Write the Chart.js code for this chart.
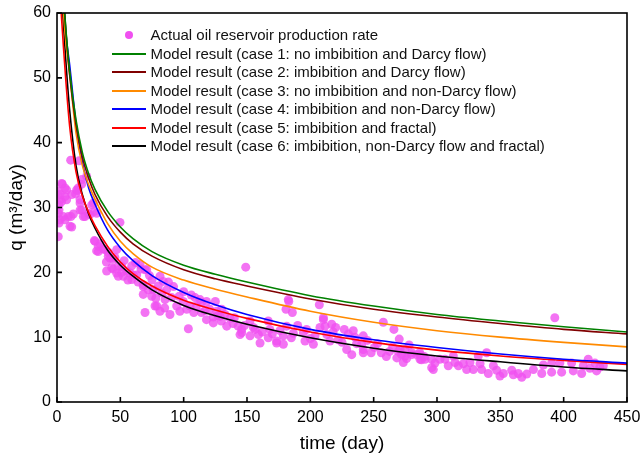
<!DOCTYPE html>
<html>
<head>
<meta charset="utf-8">
<script src="https://cdn.jsdelivr.net/npm/chart.js@4.4.1/dist/chart.umd.min.js"></script>
<style>
  body { margin: 0; background: #fff; }
  #wrap { position: relative; width: 640px; height: 455px; }
  #legend {
    position: absolute; left: 112px; top: 26px;
    font-family: "Liberation Sans", Arial, sans-serif; font-size: 15px; color: #111;
  }
  .row { position: relative; height: 18.5px; line-height: 18.5px; white-space: nowrap; }
  .row .mark { position: absolute; left: 0; top: 8px; width: 34px; height: 2px; }
  .row .dot { position: absolute; left: 13px; top: 5px; width: 8px; height: 8px; border-radius: 50%; background: rgb(240,80,240); }
  .row .txt { position: absolute; left: 38.5px; top: 0; }
</style>
</head>
<body>
<div id="wrap">
  <canvas id="chart" width="640" height="455"></canvas>
  <div id="legend"></div>
</div>
<script>
// measured data (time in days, rate in m3/day)
var obsT = [1, 1, 1.6, 1.6, 1, 1.6, 2.4, 2.4, 2.4, 3.6, 3.7, 4.2, 5, 6.3, 6.3, 6.3, 7.6, 7.6, 8.9, 10.3,
    10.8, 11, 11.6, 11.6, 12.9, 14.7, 15.5, 16.3, 16.8, 17.4, 18.2, 18.2, 18.2, 19.5, 19.5, 19.5, 20.8, 22.1, 23.4, 24.7,
    26, 27.4, 28.7, 29.5, 31.3, 49.7,
    29.5, 30, 32.6, 34, 32.6, 31.3, 36.6, 37.9, 40.5, 40.5, 41.8, 44.5, 45.7, 47.1, 39, 39.2, 43.2, 44.4, 47.1, 48.4,
    48.4, 51.1, 51, 52.4, 55, 57.6, 59, 59, 60.2, 62.9, 65.5, 66.3, 69.5, 70.8, 68.1, 68.1, 68.1, 72, 74.8, 76,
    77.4, 78.7, 69.5, 80, 81.3, 83.9, 82.7, 86.6, 85.3, 81.3, 89.2, 90.5, 94.5, 96.4, 99.7, 102.4, 105, 109, 110, 108,
    114, 114, 118, 120.5, 123.4, 127, 129.8, 103.7, 130, 112.9, 116.9, 123.4, 88, 92, 75, 64, 56, 53, 62, 73,
    78, 85, 100, 97, 106, 118, 125,
    126, 128.8, 132.6, 136.6, 134, 139, 143, 145.8, 144.5, 145.8, 149, 152.4, 152.4, 156.4, 159, 160.3, 166.8, 168, 166.8, 173.4,
    173.4, 178.7, 178.7, 181.3, 185, 186.6, 180.8, 183, 182.6, 185.8, 194.5, 195.8, 202.4, 203.7, 207.1, 210.3, 210.3, 207.6, 211.6, 213,
    216.9, 215.5, 218, 222, 226.8, 228.7, 233.9, 235.2, 236.5, 232.7, 241.8, 240.5, 241.8, 241.8, 248, 250.6, 257.6, 256, 260, 262.6,
    266, 268.3, 270.2, 269.4, 274.6, 276, 280, 283.8, 287.7, 286.4, 290, 295.8, 298.4,
    140, 148, 155, 162, 170, 176, 190, 197, 200, 220, 225, 230, 245, 253, 265, 272, 278,
    270.8, 274.7, 273.4, 280, 286.6, 286.6, 290.5, 295.8, 297.1, 302.3, 306.3, 308.9, 312.9, 314.2, 316.9, 320.8, 323.4, 326, 328.7, 332.6,
    334, 335.2, 339.2, 340.5, 344.5, 347.1, 349.7, 352.4, 359, 360.3, 364.2, 366.9, 370.8, 376.1, 382.7, 384, 390.5, 390.5, 393, 397,
    398.4, 406.3, 407.6, 414.2, 415.5, 419.4, 420.7, 424.7, 426, 431.3, 428.6];
var obsQ = [25.5, 32.5, 30.4, 29.6, 29.1, 27.6, 31.2, 28.1, 32, 30.9, 33.7, 33.6, 28.6, 31.7, 33, 28.1, 32.7, 31.2, 28.6, 27.1,
    37.3, 28.6, 27, 32, 29, 32.1, 32.7, 32.6, 33, 37.2, 30.7, 31.2, 29.6, 33.6, 34.3, 29.6, 28.6, 28.6, 34.8, 29.1,
    28.9, 30.4, 30.7, 29.4, 29.1, 27.7,
    24.9, 24.8, 24, 24.4, 23.2, 23.3, 23.6, 23.5, 23.1, 22.5, 22.2, 22, 22.3, 23.5, 21.6, 20.2, 20.7, 20.5, 19.9, 21,
    19.4, 20.9, 20, 19.4, 20.2, 19.9, 18.9, 21, 19.6, 19.6, 21.2, 20.5, 20.4, 20.4, 18.1, 17.8, 16.6, 17.3, 16.3, 17.3,
    14.8, 14.8, 13.8, 17.9, 19.4, 18.6, 16.8, 17.3, 15.8, 14, 13.5, 16.1, 14.8, 16.3, 15.5, 14.3, 14.8, 16.1, 14.8, 13.8,
    15.3, 13.8, 12.7, 14.3, 12.2, 13.3, 12.5, 11.3, 14.3, 15.8, 14.1, 13.1, 18.5, 17.8, 18.8, 18.5, 18.8, 21.8, 21.5, 19.5,
    16, 14.5, 17, 14, 16.5, 15.5, 15.5,
    14, 13.2, 13.5, 12.9, 11.7, 12.1, 11.7, 11.2, 10.4, 10.7, 20.8, 12.5, 10.2, 11.2, 10.4, 9.1, 12.5, 11.2, 9.9, 9.4,
    9.1, 8.9, 10.2, 11.7, 9.9, 10.6, 14.3, 15.5, 15.8, 13.8, 10.7, 9.4, 8.9, 10.2, 15, 12.7, 13, 11.5, 11.7, 10.4,
    12, 9.4, 10.8, 9.6, 11.2, 8.1, 11, 10, 9, 7.3, 10.2, 8.9, 7.6, 8.1, 7.6, 8.4, 12.3, 7.6, 7, 7.8,
    11.2, 6.8, 9.7, 7.8, 8.1, 6.7, 7.6, 7.3, 6.5, 7.6, 7, 5.3, 6,
    13, 11.8, 11.5, 10.8, 10.5, 11, 11.8, 11.2, 9.8, 11.5, 9.2, 10.5, 9.5, 9, 8.5, 7.3, 8.8,
    8.1, 7.1, 6.1, 7.3, 7.3, 6.6, 6.6, 6.6, 5, 6.6, 6.6, 5.6, 7.1, 6.1, 5.6, 5.9, 5, 6.1, 5, 7.1,
    5.9, 5, 7.6, 4.4, 5.6, 4.9, 4, 4.4, 4.9, 4.2, 4.4, 3.8, 4.3, 5, 4.4, 5.7, 6, 4.6, 13, 6,
    4.6, 6, 4.8, 4.4, 5.6, 6.6, 5.2, 6, 4.8, 5.6, 5.4];

// model curves
var modelT = [3, 5, 7, 10, 15, 20, 25, 30, 40, 50, 60, 75, 100, 125, 150, 200, 250, 300, 350, 400, 450];
var case1 = [70, 63, 57.5, 51, 43.5, 38.5, 35.2, 32.8, 29.4, 27, 25.2, 23.2, 21.1, 19.7, 18.5, 16.4, 14.8, 13.5, 12.5, 11.6, 10.8];
var case2 = [70, 63, 57.3, 50.5, 42.8, 37.8, 34.5, 32, 28.6, 26.2, 24.4, 22.5, 20.4, 19, 17.9, 15.9, 14.3, 13.1, 12.1, 11.2, 10.5];
var case3 = [68, 60.5, 55.5, 50.5, 41.5, 36.5, 33.5, 31.3, 27.5, 24.8, 22.9, 20.8, 18.8, 17.4, 16.2, 14, 12.3, 11, 10, 9.2, 8.5];
var case4 = [75, 63.5, 57, 52, 43, 37, 33, 30.5, 26.5, 23.8, 21.8, 19.5, 16.9, 15, 13.5, 11.2, 9.6, 8.4, 7.4, 6.6, 6];
var case5 = [61, 55, 49.5, 42.5, 35.5, 31.8, 29.2, 27.2, 24, 21.6, 19.8, 17.9, 15.7, 14.2, 12.9, 10.8, 9.2, 8, 7.1, 6.4, 5.8];
var case6 = [66, 58.5, 52.5, 45, 36.5, 32, 29, 26.8, 23.4, 21.1, 19.4, 17.3, 14.9, 13.3, 12, 9.9, 8.3, 7.1, 6.2, 5.4, 4.8];

var xTicks = [0, 50, 100, 150, 200, 250, 300, 350, 400, 450];
var yTicks = [0, 10, 20, 30, 40, 50, 60];

var obsLabel = 'Actual oil reservoir production rate';
var caseLabels = [
    'Model result (case 1: no imbibition and Darcy flow)',
    'Model result (case 2: imbibition and Darcy flow)',
    'Model result (case 3: no imbibition and non-Darcy flow)',
    'Model result (case 4: imbibition and non-Darcy flow)',
    'Model result (case 5: imbibition and fractal)',
    'Model result (case 6: imbibition, non-Darcy flow and fractal)'
];
var caseColors = ['#008000', '#800000', '#ff8a00', '#0000ff', '#ff0000', '#000000'];
var caseData = [case1, case2, case3, case4, case5, case6];

function toPoints(xs, ys) {
    return xs.map((x, i) => ({ x: x, y: ys[i] }));
}

var datasets = [];
for (let i = 0; i < caseData.length; i++) {
    datasets.push({
        label: caseLabels[i],
        data: toPoints(modelT, caseData[i]),
        showLine: true,
        borderColor: caseColors[i],
        borderWidth: 1.6,
        pointRadius: 0,
        cubicInterpolationMode: 'monotone',
        order: i
    });
}
datasets.push({
    label: obsLabel,
    data: toPoints(obsT, obsQ),
    pointRadius: 4.5,
    pointBorderWidth: 0,
    backgroundColor: 'rgba(240, 80, 240, 0.8)',
    order: 20
});

// box + inward ticks
var frame = {
    id: 'frame',
    afterDatasetsDraw(chart) {
        var ctx = chart.ctx, a = chart.chartArea;
        var xs = chart.scales.x, ys = chart.scales.y;
        ctx.save();
        ctx.strokeStyle = '#000';
        ctx.lineWidth = 1.6;
        ctx.strokeRect(a.left, a.top, a.right - a.left, a.bottom - a.top);
        ctx.beginPath();
        xTicks.forEach(v => {
            var px = xs.getPixelForValue(v);
            ctx.moveTo(px, a.bottom);
            ctx.lineTo(px, a.bottom - 5);
        });
        yTicks.forEach(v => {
            var py = ys.getPixelForValue(v);
            ctx.moveTo(a.left, py);
            ctx.lineTo(a.left + 5, py);
        });
        ctx.stroke();
        ctx.restore();
    }
};

var font = 'Liberation Sans, Arial, sans-serif';

var ctx = document.getElementById('chart').getContext('2d');
var chart = new Chart(ctx, {
    type: 'scatter',
    data: { datasets: datasets },
    options: {
        responsive: false,
        animation: false,
        layout: { padding: { top: 13, right: 13, left: 0, bottom: 0 } },
        plugins: { legend: { display: false }, tooltip: { enabled: false } },
        scales: {
            x: {
                type: 'linear', min: 0, max: 450,
                afterBuildTicks: s => { s.ticks = xTicks.map(v => ({ value: v })); },
                afterFit: s => { s.height = 53; s.paddingLeft = 0; s.paddingRight = 0; },
                grid: { display: false, drawTicks: false },
                border: { display: false },
                ticks: { color: '#000', padding: 6, font: { family: font, size: 16 } },
                title: { display: true, text: 'time (day)', color: '#000', padding: { top: 0, bottom: 0 }, font: { family: font, size: 19 } }
            },
            y: {
                min: 0, max: 60,
                afterBuildTicks: s => { s.ticks = yTicks.map(v => ({ value: v })); },
                afterFit: s => { s.width = 57; s.paddingTop = 0; s.paddingBottom = 0; },
                grid: { display: false, drawTicks: false },
                border: { display: false },
                ticks: { color: '#000', padding: 6, font: { family: font, size: 16 } },
                title: { display: true, text: 'q (m\u00b3/day)', color: '#000', padding: { top: 5, bottom: 0 }, font: { family: font, size: 19 } }
            }
        }
    },
    plugins: [frame]
});

// html legend
var legend = document.getElementById('legend');
var rows = '<div class="row"><span class="dot"></span><span class="txt">' + obsLabel + '</span></div>';
for (let i = 0; i < caseLabels.length; i++) {
    rows += '<div class="row"><span class="mark" style="background:' + caseColors[i] + '"></span><span class="txt">' + caseLabels[i] + '</span></div>';
}
legend.innerHTML = rows;
</script>
</body>
</html>
